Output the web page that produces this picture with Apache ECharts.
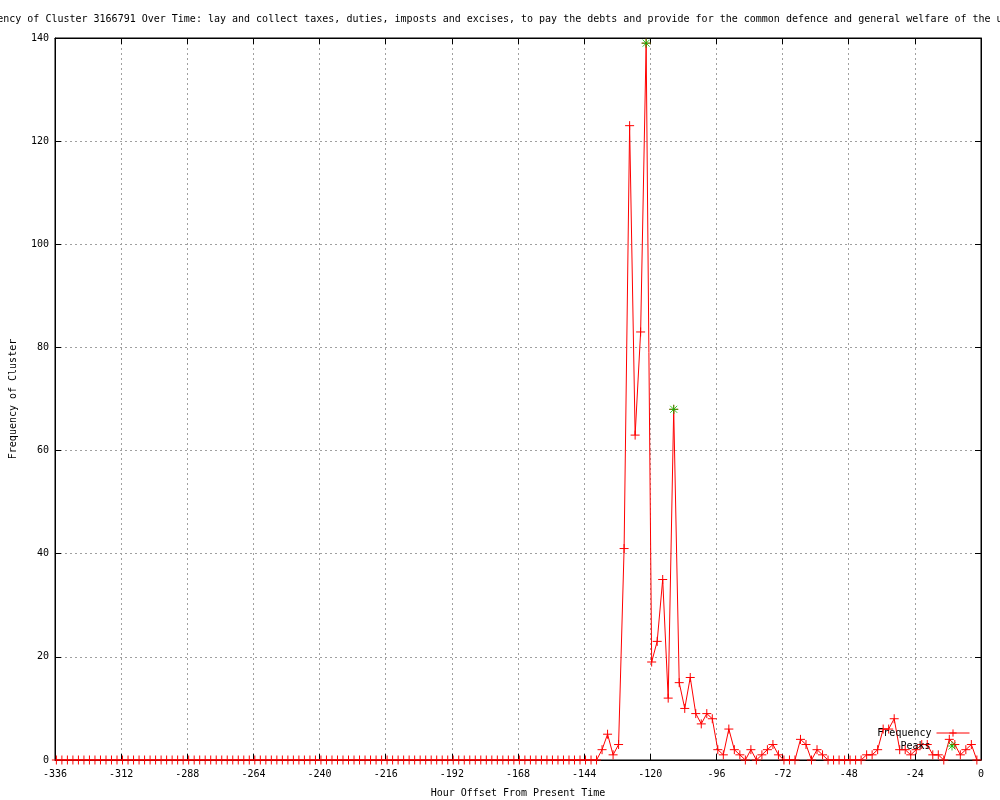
<!DOCTYPE html>
<html><head><meta charset="utf-8">
<script src="https://cdn.jsdelivr.net/npm/echarts@6/dist/echarts.min.js"></script>
<style>html,body{margin:0;padding:0;background:#fff}#c{width:1000px;height:800px}</style>
</head><body><div id="c"></div>
<script>
const titleText = "Frequency of Cluster 3166791 Over Time: lay and collect taxes, duties, imposts and excises, to pay the debts and provide for the common defence and general welfare of the united states";
const xAxisTitle = "Hour Offset From Present Time";
const yAxisTitle = "Frequency of Cluster";
const seriesNames = ["Frequency", "Peaks"];
// bins: first bin centre and bin width (hours)
const firstHour = -335.5;
const hourStep = 2;
const frequency = [
  0,0,0,0,0,0,0,0,0,0, 0,0,0,0,0,0,0,0,0,0,
  0,0,0,0,0,0,0,0,0,0, 0,0,0,0,0,0,0,0,0,0,
  0,0,0,0,0,0,0,0,0,0, 0,0,0,0,0,0,0,0,0,0,
  0,0,0,0,0,0,0,0,0,0, 0,0,0,0,0,0,0,0,0,0,
  0,0,0,0,0,0,0,0,0,0, 0,0,0,0,0,0,0,0,0,2,
  5,1,3,41,123,63,83,139,19,23, 35,12,68,15,10,16,9,7,9,8,
  2,1,6,2,1,0,2,0,1,2, 3,1,0,0,0,4,3,0,2,1,
  0,0,0,0,0,0,0,1,1,2, 6,6,8,2,2,1,2,3,3,1,
  1,0,4,3,1,2,3,0
];
const peakHours = [-121.5, -111.5];
const peakValues = [139, 68];
const xMin = -336, xMax = 0, xInterval = 24;
const yMin = 0, yMax = 140, yInterval = 20;

const FONT = 'DejaVu Sans Mono';
const freqData = frequency.map((v, i) => [firstHour + i * hourStep, v]);
const peakData = peakHours.map((h, i) => [h, peakValues[i]]);
const plusPath = 'path://M0,4.5L9,4.5M4.5,0L4.5,9';
const starPath = 'path://M0,4.5L9,4.5M4.5,0L4.5,9M1,1L8,8M8,1L1,8';
const txt = {fontFamily: FONT, fontSize: 10, color: '#000', fontWeight: 'normal'};
const grid = {color: '#a0a0a0', type: [2, 3], width: 1};

const chart = echarts.init(document.getElementById('c'), null, {renderer: 'canvas'});
chart.setOption({
  animation: false,
  backgroundColor: '#fff',
  title: {text: titleText, left: 516, top: 9, textAlign: 'center', textStyle: Object.assign({}, txt)},
  grid: {left: 55, right: 19, top: 38, bottom: 40, show: true, borderColor: '#000', borderWidth: 1,
         containLabel: false, outerBoundsMode: 'none'},
  legend: [
    {data: [seriesNames[0]], orient: 'vertical', align: 'right', right: 30, top: 728, padding: 0, itemWidth: 33, itemHeight: 9,
     itemGap: 2, selectedMode: false, textStyle: Object.assign({}, txt),
     lineStyle: {color: '#ff0000', width: 1},
     itemStyle: {color: 'transparent', borderColor: '#ff0000', borderWidth: 1}},
    {data: [seriesNames[1]], orient: 'vertical', align: 'right', right: 43, top: 741, padding: 0, itemWidth: 33, itemHeight: 9,
     itemGap: 2, selectedMode: false, textStyle: Object.assign({}, txt),
     itemStyle: {color: 'transparent', borderColor: '#00c000', borderWidth: 1}}
  ],
  xAxis: [
    {type: 'value', min: xMin, max: xMax, interval: xInterval, position: 'bottom',
     name: xAxisTitle, nameLocation: 'middle', nameGap: 28, nameTextStyle: Object.assign({}, txt),
     axisLine: {show: true, onZero: false, lineStyle: {color: '#000', width: 1}},
     axisTick: {show: true, inside: true, length: 6, lineStyle: {color: '#000'}},
     axisLabel: Object.assign({margin: 9}, txt),
     splitLine: {show: true, lineStyle: grid}},
    {type: 'value', min: xMin, max: xMax, interval: xInterval, position: 'top',
     axisLine: {show: true, onZero: false, lineStyle: {color: '#000', width: 1}},
     axisTick: {show: true, inside: true, length: 6, lineStyle: {color: '#000'}},
     axisLabel: {show: false}, splitLine: {show: false}}
  ],
  yAxis: [
    {type: 'value', min: yMin, max: yMax, interval: yInterval, position: 'left',
     name: yAxisTitle, nameLocation: 'middle', nameGap: 37, nameRotate: 90, nameTextStyle: Object.assign({}, txt),
     axisLine: {show: true, onZero: false, lineStyle: {color: '#000', width: 1}},
     axisTick: {show: true, inside: true, length: 6, lineStyle: {color: '#000'}},
     axisLabel: Object.assign({margin: 6}, txt),
     splitLine: {show: true, lineStyle: grid}},
    {type: 'value', min: yMin, max: yMax, interval: yInterval, position: 'right',
     axisLine: {show: true, onZero: false, lineStyle: {color: '#000', width: 1}},
     axisTick: {show: true, inside: true, length: 6, lineStyle: {color: '#000'}},
     axisLabel: {show: false}, splitLine: {show: false}}
  ],
  series: [
    {name: seriesNames[0], type: 'line', xAxisIndex: 0, yAxisIndex: 0, data: freqData,
     symbol: plusPath, symbolSize: 9, showSymbol: true, showAllSymbol: true,
     lineStyle: {color: '#ff0000', width: 1},
     itemStyle: {color: 'transparent', borderColor: '#ff0000', borderWidth: 1},
     emphasis: {disabled: true}, z: 3},
    {name: seriesNames[1], type: 'scatter', xAxisIndex: 0, yAxisIndex: 0, data: peakData,
     symbol: starPath, symbolSize: 9,
     itemStyle: {color: 'transparent', borderColor: '#00c000', borderWidth: 1},
     emphasis: {disabled: true}, z: 4}
  ]
});
</script></body></html>
